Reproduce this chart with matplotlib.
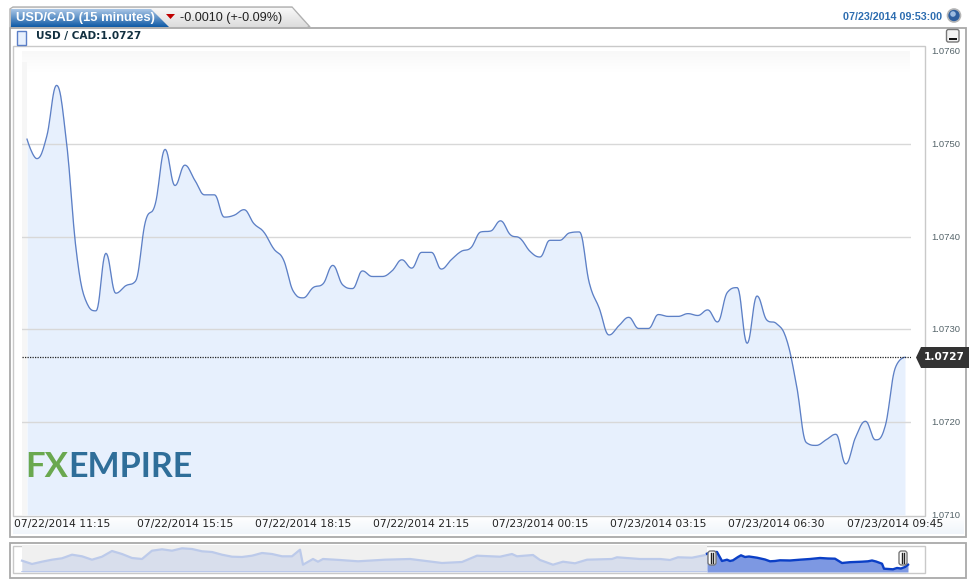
import numpy as np
import matplotlib
matplotlib.use("Agg")
import matplotlib.pyplot as plt
from matplotlib.patches import Polygon, Rectangle, FancyBboxPatch, Circle
from matplotlib.transforms import ScaledTranslation

# 15 minute closes
closes = [
    1.07505, 1.07484, 1.07508, 1.07563, 1.07502, 1.07384, 1.07330, 1.07320, 1.07382, 1.07339,
    1.07347, 1.07352, 1.07416, 1.07435, 1.07494, 1.07455, 1.07477, 1.07461, 1.07445, 1.07445,
    1.07421, 1.07423, 1.07429, 1.07414, 1.07405, 1.07387, 1.07375, 1.07341, 1.07334, 1.07345,
    1.07349, 1.07369, 1.07348, 1.07344, 1.07363, 1.07357, 1.07357, 1.07363, 1.07375, 1.07366,
    1.07383, 1.07383, 1.07365, 1.07375, 1.07384, 1.07388, 1.07405, 1.07406, 1.07417, 1.07402,
    1.07398, 1.07384, 1.07378, 1.07396, 1.07396, 1.07404, 1.07405, 1.07350, 1.07323, 1.07294,
    1.07304, 1.07313, 1.07301, 1.07301, 1.07316, 1.07314, 1.07314, 1.07317, 1.07315, 1.07321,
    1.07308, 1.07340, 1.07345, 1.07285, 1.07336, 1.07310, 1.07306, 1.07289, 1.07240, 1.07178,
    1.07175, 1.07181, 1.07187, 1.07155, 1.07184, 1.07201, 1.07181, 1.07196, 1.07258, 1.07270,
]
y_ticks = [1.0710, 1.0720, 1.0730, 1.0740, 1.0750, 1.0760]
x_tick_slots = [0, 16, 28, 40, 52, 64, 76, 88]
x_tick_labels = [
    "07/22/2014 11:15", "07/22/2014 15:15", "07/22/2014 18:15", "07/22/2014 21:15",
    "07/23/2014 00:15", "07/23/2014 03:15", "07/23/2014 06:30", "07/23/2014 09:45",
]
last_price = 1.0727

# overview strip at the bottom
ov_slots = [22, 32, 42, 52, 62, 72, 82, 92, 102, 112, 122, 132, 142, 152, 162, 172, 182, 192, 202,
            212, 222, 232, 242, 252, 262, 272, 282, 292, 300, 303, 313, 318, 323, 340, 358, 385,
            410, 442, 462, 477, 500, 512, 517, 533, 540, 553, 563, 575, 587, 612, 617, 640, 660,
            670, 678, 692, 707]
ov_vals = [11.3, 8, 10.3, 12.3, 13.7, 17.3, 15.7, 12.3, 15.3, 21, 18, 14, 13, 21.3, 22.7, 21.3, 23.7, 23, 20.7,
           20, 17.3, 15.3, 15, 16.3, 19, 18, 15.7, 15.7, 22.3, 7.3, 13, 10.3, 13, 12, 10.7, 12.3,
           13, 9, 10, 16.3, 15.3, 18, 15.7, 17, 12, 7.3, 10.3, 8.7, 12.3, 13, 14.7, 13, 13,
           12, 14.7, 14.3, 17.3]
sel_slots = [707, 712, 717, 722, 727, 730, 733, 738, 741, 745, 749, 757, 765, 770, 775, 780, 790, 800, 810, 820,
             828, 835, 842, 850, 862, 868, 872, 876, 882, 884, 893, 897, 901, 905, 908]
sel_vals = [18.3, 20, 20, 11, 12.3, 11, 11.7, 15, 16.7, 15, 15.5, 14.3, 12.5, 10.7, 11, 11.7, 11.5, 12.3, 13, 14,
            13.5, 13.3, 9, 9.8, 10.3, 10.7, 11.5, 10.5, 8.3, 3.3, 2.7, 4, 3.5, 5, 7.3]


def px_axes(fig, x0, y0, x1, y1):
    return fig.add_axes([x0 / 976, 1 - y1 / 585, (x1 - x0) / 976, (y1 - y0) / 585])


def spline(xs, ys, n=12):
    # same smoothing the stock chart library uses: controls 0.4 of the gap, no overshoot
    xs = np.asarray(xs, float)
    ys = np.asarray(ys, float)
    left = {}
    right = {}
    for i in range(1, len(xs) - 1):
        lx = (1.5 * xs[i] + xs[i - 1]) / 2.5
        ly = (1.5 * ys[i] + ys[i - 1]) / 2.5
        rx = (1.5 * xs[i] + xs[i + 1]) / 2.5
        ry = (1.5 * ys[i] + ys[i + 1]) / 2.5
        corr = (ry - ly) * (rx - xs[i]) / (rx - lx) + ys[i] - ry
        ly += corr
        ry += corr
        if ly > ys[i - 1] and ly > ys[i]:
            ly = max(ys[i - 1], ys[i])
            ry = 2 * ys[i] - ly
        elif ly < ys[i - 1] and ly < ys[i]:
            ly = min(ys[i - 1], ys[i])
            ry = 2 * ys[i] - ly
        if ry > ys[i + 1] and ry > ys[i]:
            ry = max(ys[i + 1], ys[i])
            ly = 2 * ys[i] - ry
        elif ry < ys[i + 1] and ry < ys[i]:
            ry = min(ys[i + 1], ys[i])
            ly = 2 * ys[i] - ry
        left[i] = (lx, ly)
        right[i] = (rx, ry)
    out_x, out_y = [], []
    t = np.linspace(0, 1, n, endpoint=False)
    for i in range(len(xs) - 1):
        c1 = right.get(i, (xs[i], ys[i]))
        c2 = left.get(i + 1, (xs[i + 1], ys[i + 1]))
        out_x.append((1-t)**3 * xs[i] + 3*(1-t)**2*t * c1[0] + 3*(1-t)*t**2 * c2[0] + t**3 * xs[i + 1])
        out_y.append((1-t)**3 * ys[i] + 3*(1-t)**2*t * c1[1] + 3*(1-t)*t**2 * c2[1] + t**3 * ys[i + 1])
    out_x.append(xs[-1:])
    out_y.append(ys[-1:])
    return np.concatenate(out_x), np.concatenate(out_y)


def gradient(ax, x0, y0, x1, y1, top, bottom, clip=None, zorder=1):
    c0 = np.array(matplotlib.colors.to_rgb(top))
    c1 = np.array(matplotlib.colors.to_rgb(bottom))
    t = np.linspace(0, 1, 64)[:, None]
    img = (c0 * (1 - t) + c1 * t)[:, None, :]
    im = ax.imshow(img, extent=(x0, x1, y1, y0), aspect="auto", zorder=zorder, interpolation="bilinear")
    if clip is not None:
        ax.add_patch(clip)
        im.set_clip_path(clip)


fig = plt.figure(figsize=(9.76, 5.85), dpi=100, facecolor="white")

# page chrome behind the charts
page = px_axes(fig, 0, 0, 976, 585)
page.set_zorder(0)
page.axis("off")

page.add_patch(Rectangle((9.5, 27.5), 956, 509, fc="white", ec="#a9a9a9", lw=1.3, zorder=1))
gradient(page, 13, 516, 964, 534, "#ffffff", "#f0f5fb", zorder=2)
page.add_patch(Rectangle((12.5, 45.5), 912, 470, fc="white", ec="#c9c9c9", lw=1, zorder=3))
gradient(page, 22, 51, 910, 72, "#f8f8f8", "#ffffff", zorder=4)
page.add_patch(Rectangle((22, 62), 5, 453, fc="#f6f6f6", ec="none", zorder=4))
page.add_patch(Rectangle((9.5, 542.5), 956, 35, fc="white", ec="#a9a9a9", lw=1.3, zorder=1))
page.add_patch(Rectangle((12.5, 545.5), 912, 27, fc="white", ec="#c9c9c9", lw=1, zorder=2))

# tabs
page.add_patch(Polygon([(10, 27), (10, 9), (13, 7), (292, 7), (310, 27)], closed=True, fc="#e4e4e4", ec="#b0b0b0", lw=1, zorder=1))
gradient(page, 11, 8, 309, 27, "#f8f8f8", "#dcdcdc",
         clip=Polygon([(11, 27), (11, 9), (13, 8), (292, 8), (308, 27)], closed=True, fc="none", ec="none"), zorder=2)
gradient(page, 11, 9, 170, 27, "#a9c6e6", "#0f5aa6",
         clip=Polygon([(11, 27), (11, 9), (151, 9), (169, 27)], closed=True, fc="none", ec="none"), zorder=3)
page.text(16, 18.5, "USD/CAD (15 minutes)", color="white", fontsize=9.4, fontweight="bold",
          family="Liberation Sans", va="center", zorder=6)
page.add_patch(Polygon([(166, 14), (175, 14), (170.5, 19)], closed=True, fc="#c00000", ec="none", zorder=6))
page.text(180, 18, "-0.0010 (+-0.09%)", color="#222222", fontsize=9.05,
          family="Liberation Sans", va="center", zorder=6)
page.text(942, 17.5, "07/23/2014 09:53:00", color="#2d6db0", fontsize=7.7, fontweight="bold",
          family="Liberation Sans", ha="right", va="center", zorder=6)
page.add_patch(Circle((954, 15.5), 6.5, fc="#2f5f9f", ec="#b5b5b5", lw=1.2, zorder=6))
page.add_patch(Circle((953, 14), 2.8, fc="#9dbbe0", ec="none", zorder=7))
page.add_patch(FancyBboxPatch((946.5, 29.5), 12.5, 12.5, boxstyle="round,pad=0,rounding_size=2", fc="#f2f2f2", ec="#777777", lw=1, zorder=6))
page.add_patch(Rectangle((949, 38), 8, 2, fc="#111111", ec="none", zorder=7))

page.add_patch(Rectangle((16.5, 30.5), 9, 14, fc="#e7f0fd", ec="#5b7fc7", lw=1, zorder=6))
page.text(36, 36.5, "USD / CAD:1.0727", color="#123040", fontsize=7.55, fontweight="bold", va="center", zorder=6)

page.set_xlim(0, 976)
page.set_ylim(585, 0)

# main chart
ax = px_axes(fig, 22, 51, 911, 515)
ax.set_zorder(2)
ax.patch.set_alpha(0)
slots = np.arange(len(closes))
step = 9.865
ax.set_xlim(-5 / step, 884 / step)
ax.set_ylim(1.0710, 1.0760)
sx, sy = spline(slots, closes)
ax.fill_between(sx, sy, 1.0710, color="#e7f0fd", lw=0, zorder=1)
for v in y_ticks[1:-1]:
    ax.axhline(v, color="#d8d8d8", lw=1, zorder=2)
ax.plot(sx, sy, color="#5d80c6", lw=0.95, zorder=3)
ax.axhline(last_price, color="#222222", lw=0.9, ls=(0, (1, 1)), zorder=4)

for s in ax.spines.values():
    s.set_visible(False)
ax.yaxis.tick_right()
ax.set_yticks(y_ticks)
ax.set_yticklabels([f"{v:.4f}" for v in y_ticks], color="#55646a", fontsize=6.8, family="Liberation Sans")
ax.tick_params(axis="y", length=0, pad=14.6)
for lab in ax.get_yticklabels():
    lab.set_transform(lab.get_transform() + ScaledTranslation(0, 0.5 / 100, fig.dpi_scale_trans))
ax.set_xticks(x_tick_slots)
ax.set_xticklabels(x_tick_labels, color="#222222", fontsize=7.72)
ax.tick_params(axis="x", length=0, pad=3)
lab0 = ax.get_xticklabels()[0]
lab0.set_transform(lab0.get_transform() + ScaledTranslation(35.5 / 100, 0, fig.dpi_scale_trans))

# overview strip
mini = px_axes(fig, 13, 545, 924, 572)
mini.set_zorder(2)
mini.patch.set_alpha(0)
mini.set_xlim(13, 924)
mini.set_ylim(0, 27)
mini.axis("off")
mini.axvspan(22, 707, color="#f0f0f0", lw=0, zorder=0)
mini.fill_between(ov_slots, ov_vals, 0, color="#d8deec", lw=0, zorder=1)
mini.plot(ov_slots, ov_vals, color="#bccaea", lw=1.6, zorder=2)
mini.plot([22, 707], [0.5, 0.5], color="#b4c4ea", lw=1.2, zorder=2)
mini.fill_between(sel_slots, sel_vals, 0, color="#7d98e2", lw=0, zorder=1)
mini.plot(sel_slots, sel_vals, color="#0b3fc6", lw=1.7, zorder=2)

# overlay: price callout, logo, handles
over = px_axes(fig, 0, 0, 976, 585)
over.set_zorder(5)
over.patch.set_alpha(0)
over.axis("off")
over.set_xlim(0, 976)
over.set_ylim(585, 0)
over.add_patch(Polygon([(916, 357.5), (921, 347), (969, 347), (969, 368), (921, 368)], closed=True, fc="#333333", ec="none"))
over.text(944, 357.5, f"{last_price:.4f}", color="white", fontsize=7.6, fontweight="bold", ha="center", va="center")
over.text(25, 467, "FX", color="#6aa84f", fontsize=25, fontweight="bold", family="Lato", va="center")
over.text(68.5, 467, "EMPIRE", color="#2f6e99", fontsize=24.5, fontweight="bold", family="Lato", va="center")
for hx in (712, 903):
    over.add_patch(FancyBboxPatch((hx - 4, 551), 8, 14, boxstyle="round,pad=0,rounding_size=2.5", fc="white", ec="#777777", lw=1))
    over.plot([hx - 1.2, hx - 1.2], [553, 563], color="#222222", lw=1)
    over.plot([hx + 1.2, hx + 1.2], [553, 563], color="#222222", lw=1)

fig.savefig("out.png", dpi=100)
